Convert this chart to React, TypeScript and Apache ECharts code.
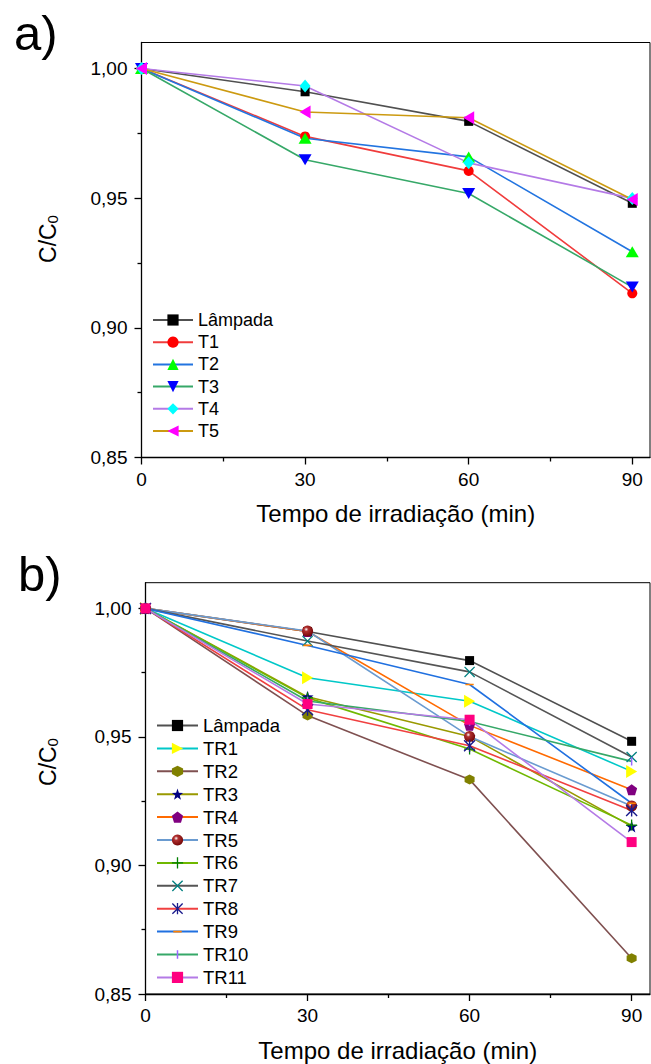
import React, { useEffect, useRef } from "react";
import * as echarts from "echarts";

const FONT = "'Liberation Sans', Arial, sans-serif";

// ---------- data ----------
const timeMin = [0, 30, 60, 90];
const xTicks = [0, 30, 60, 90];
const xMinorTicks = [15, 45, 75];
const yTicks = [0.85, 0.9, 0.95, 1.0];
const yMinorTicks = [0.875, 0.925, 0.975];

// panel a
const namesA = ["Lâmpada", "T1", "T2", "T3", "T4", "T5"];
const lampadaA = [1.0, 0.991, 0.9796, 0.948];
const t1 = [1.0, 0.9738, 0.9605, 0.9133];
const t2 = [1.0, 0.9731, 0.9659, 0.9293];
const t3 = [1.0, 0.9648, 0.9518, 0.9157];
const t4 = [1.0, 0.9932, 0.9636, 0.9499];
const t5 = [1.0, 0.9832, 0.981, 0.9495];

// panel b
const namesB = ["Lâmpada", "TR1", "TR2", "TR3", "TR4", "TR5", "TR6", "TR7", "TR8", "TR9", "TR10", "TR11"];
const lampadaB = [1.0, 0.991, 0.9797, 0.9483];
const tr1 = [1.0, 0.973, 0.9639, 0.9366];
const tr2 = [1.0, 0.9583, 0.9334, 0.8639];
const tr3 = [1.0, 0.9656, 0.9502, 0.9152];
const tr4 = [1.0, 0.991, 0.9545, 0.9295];
const tr5 = [1.0, 0.9912, 0.9502, 0.9231];
const tr6 = [1.0, 0.9652, 0.9453, 0.9157];
const tr7 = [1.0, 0.9873, 0.9753, 0.9422];
const tr8 = [1.0, 0.9606, 0.9466, 0.9214];
const tr9 = [1.0, 0.9856, 0.9704, 0.9242];
const tr10 = [1.0, 0.964, 0.956, 0.9405];
const tr11 = [1.0, 0.9628, 0.9567, 0.9091];

// ---------- symbols ----------
function polyPath(n: number, r: number, inner: number | null): string {
  const pts: string[] = [];
  const total = inner ? n * 2 : n;
  for (let i = 0; i < total; i++) {
    const ang = -Math.PI / 2 + (i * Math.PI * 2) / total;
    const rr = inner && i % 2 === 1 ? inner : r;
    pts.push((r + rr * Math.cos(ang)).toFixed(3) + " " + (r + rr * Math.sin(ang)).toFixed(3));
  }
  return "path://M" + pts.join(" L") + " Z";
}
const SYM_STAR = polyPath(5, 10, 4);
const SYM_PENT = polyPath(5, 10, null);
const SYM_HEX = polyPath(6, 10, null);
const SYM_TRI_DOWN = "path://M0 0 L12 0 L6 10.4 Z";
const SYM_TRI_LEFT = "path://M0 6 L10.4 0 L10.4 12 Z";
const SYM_TRI_RIGHT = "path://M0 0 L10.4 6 L0 12 Z";
const SYM_PLUS = "path://M5.3 0 H6.7 V5.3 H12 V6.7 H6.7 V12 H5.3 V6.7 H0 V5.3 H5.3 Z";
const SYM_X = "path://M0 1 L1 0 L6 5 L11 0 L12 1 L7 6 L12 11 L11 12 L6 7 L1 12 L0 11 L5 6 Z";
const SYM_ASTER =
  "path://M0 1 L1 0 L6 5 L11 0 L12 1 L7 6 L12 11 L11 12 L6 7 L1 12 L0 11 L5 6 Z M5.3 0 H6.7 V12 H5.3 Z";
const SYM_HDASH = "path://M0 0 L0.01 0 L0 0.01 Z M12 12 L11.99 12 L12 11.99 Z M1.5 5.1 H10.5 V6.9 H1.5 Z";
const SYM_VBAR = "path://M0 0 L0.01 0 L0 0.01 Z M12 12 L11.99 12 L12 11.99 Z M5.2 1.5 H6.8 V10.5 H5.2 Z";

const BALL = {
  type: "radial",
  x: 0.38,
  y: 0.35,
  r: 0.75,
  colorStops: [
    { offset: 0, color: "#ffffff" },
    { offset: 0.25, color: "#b03030" },
    { offset: 1, color: "#6a0000" },
  ],
};

function fmtY(v: number) {
  return v.toFixed(2).replace(".", ",");
}

function mkSeries(
  name: string,
  values: number[],
  axis: number,
  symbol: string,
  symbolSize: any,
  markerColor: any,
  lineColor: string,
  extra: any = {}
) {
  return {
    type: "line",
    name,
    xAxisIndex: axis,
    yAxisIndex: axis,
    data: timeMin.map((t, i) => [t, values[i]]),
    symbol,
    symbolSize,
    symbolKeepAspect: false,
    showSymbol: true,
    clip: false,
    itemStyle: { color: markerColor, borderWidth: 0, opacity: 1 },
    lineStyle: { color: lineColor, width: 1.6 },
    emphasis: { disabled: true },
    ...extra,
  };
}

function mainX(grid: number, max: number) {
  return {
    type: "value",
    gridIndex: grid,
    position: "bottom",
    min: 0,
    max,
    axisLine: { show: true, onZero: false, lineStyle: { color: "#000", width: 1.3 } },
    axisTick: { show: true, length: 7, customValues: xTicks, lineStyle: { color: "#000", width: 1.3 } },
    axisLabel: { show: true, customValues: xTicks, margin: 12, fontSize: 19, color: "#000", fontFamily: FONT },
    splitLine: { show: false },
    name: "Tempo de irradiação (min)",
    nameLocation: "middle",
    nameGap: 44,
    nameTextStyle: { fontSize: 24, color: "#000", fontFamily: FONT },
  };
}
function minorX(grid: number, max: number) {
  return {
    type: "value",
    gridIndex: grid,
    position: "bottom",
    min: 0,
    max,
    axisLine: { show: false, onZero: false },
    axisTick: { show: true, length: 4, customValues: xMinorTicks, lineStyle: { color: "#000", width: 1.3 } },
    axisLabel: { show: false },
    splitLine: { show: false },
  };
}
function mainY(grid: number) {
  return {
    type: "value",
    gridIndex: grid,
    position: "left",
    min: 0.85,
    max: 1.01,
    axisLine: { show: true, onZero: false, lineStyle: { color: "#000", width: 1.3 } },
    axisTick: { show: true, length: 7, customValues: yTicks, lineStyle: { color: "#000", width: 1.3 } },
    axisLabel: {
      show: true,
      customValues: yTicks,
      margin: 14,
      fontSize: 19,
      color: "#000",
      fontFamily: FONT,
      formatter: (v: number) => fmtY(v),
    },
    splitLine: { show: false },
  };
}
function minorY(grid: number) {
  return {
    type: "value",
    gridIndex: grid,
    position: "left",
    min: 0.85,
    max: 1.01,
    axisLine: { show: false, onZero: false },
    axisTick: { show: true, length: 4, customValues: yMinorTicks, lineStyle: { color: "#000", width: 1.3 } },
    axisLabel: { show: false },
    splitLine: { show: false },
  };
}

function yTitle(x: number, y: number) {
  return {
    type: "text",
    x,
    y,
    rotation: Math.PI / 2,
    z: 100,
    style: {
      text: "{c|C/C}{s|0}",
      align: "center",
      verticalAlign: "middle",
      fill: "#000",
      rich: {
        c: { fontSize: 23, fontFamily: FONT, fill: "#000", lineHeight: 23, verticalAlign: "bottom" },
        s: { fontSize: 15, fontFamily: FONT, fill: "#000", lineHeight: 11, verticalAlign: "bottom" },
      },
    },
  };
}

export default function App() {
  const ref = useRef<HTMLDivElement>(null);
  useEffect(() => {
    if (!ref.current) return;
    const chart = echarts.init(ref.current, null, { renderer: "svg" });
    const option: any = {
      animation: false,
      backgroundColor: "#fff",
      textStyle: { fontFamily: FONT },
      grid: [
        { left: 141.5, top: 42.5, width: 508.5, height: 415, show: true, borderColor: "#000", borderWidth: 1, backgroundColor: "transparent" },
        { left: 145.5, top: 582.7, width: 504.5, height: 411.3, show: true, borderColor: "#000", borderWidth: 1, backgroundColor: "transparent" },
      ],
      xAxis: [mainX(0, 93.25), minorX(0, 93.25), mainX(1, 93.4), minorX(1, 93.4)],
      yAxis: [mainY(0), minorY(0), mainY(1), minorY(1)],
      legend: [
        {
          orient: "vertical",
          left: 152,
          top: 311,
          padding: 0,
          itemWidth: 40,
          itemHeight: 14,
          itemGap: 4.2,
          selectedMode: false,
          textStyle: { fontSize: 18, color: "#000", fontFamily: FONT },
          data: namesA,
        },
        {
          orient: "vertical",
          left: 156,
          top: 716,
          padding: 0,
          itemWidth: 41,
          itemHeight: 14,
          itemGap: 3.9,
          selectedMode: false,
          textStyle: { fontSize: 18.5, color: "#000", fontFamily: FONT },
          data: namesB,
        },
      ],
      graphic: [
        { type: "text", x: 14, y: 33, style: { text: "a)", fontSize: 49, fontFamily: FONT, fill: "#000", verticalAlign: "middle" } },
        { type: "text", x: 18, y: 574, style: { text: "b)", fontSize: 49, fontFamily: FONT, fill: "#000", verticalAlign: "middle" } },
        yTitle(48, 239),
        yTitle(48, 762),
      ],
      series: [
        // panel a
        mkSeries(namesA[0], lampadaA, 0, "rect", 9, "#000000", "#505050"),
        mkSeries(namesA[1], t1, 0, "circle", 10, "#ff0000", "#f03c3c"),
        mkSeries(namesA[2], t2, 0, "triangle", [13, 11], "#00ff00", "#2274e0"),
        mkSeries(namesA[3], t3, 0, SYM_TRI_DOWN, [13, 11], "#0000ff", "#36a868"),
        mkSeries(namesA[4], t4, 0, "diamond", [11, 13], "#00ffff", "#b47ae6"),
        mkSeries(namesA[5], t5, 0, SYM_TRI_LEFT, [11, 13], "#ff00ff", "#cc9a10"),
        // panel b
        mkSeries(namesB[0], lampadaB, 2, "rect", 9, "#000000", "#505050"),
        mkSeries(namesB[1], tr1, 2, SYM_TRI_RIGHT, [11, 13], "#ffff00", "#00c8c8"),
        mkSeries(namesB[2], tr2, 2, SYM_HEX, [10, 10], "#808000", "#7f5050"),
        mkSeries(namesB[3], tr3, 2, SYM_STAR, [12, 12], "#000080", "#999900"),
        mkSeries(namesB[4], tr4, 2, SYM_PENT, [11, 11], "#800080", "#ff6a00"),
        mkSeries(namesB[5], tr5, 2, "circle", 11, BALL, "#6a9bd0"),
        mkSeries(namesB[6], tr6, 2, SYM_PLUS, [11, 11], "#008000", "#70b800"),
        mkSeries(namesB[7], tr7, 2, SYM_X, [11, 11], "#008080", "#555555"),
        mkSeries(namesB[8], tr8, 2, SYM_ASTER, [12, 12], "#1a1a8c", "#f04040"),
        mkSeries(namesB[9], tr9, 2, SYM_HDASH, [11, 11], "#ff8000", "#2070e0"),
        mkSeries(namesB[10], tr10, 2, SYM_VBAR, [11, 11], "#9966ff", "#36a868"),
        mkSeries(namesB[11], tr11, 2, "rect", 10, "#ff0080", "#b47ae6"),
      ],
    };
    chart.setOption(option);
    return () => chart.dispose();
  }, []);
  return (
    <div
      ref={ref}
      style={{ position: "fixed", left: 0, top: 0, width: 651, height: 1064, background: "#fff" }}
    />
  );
}
